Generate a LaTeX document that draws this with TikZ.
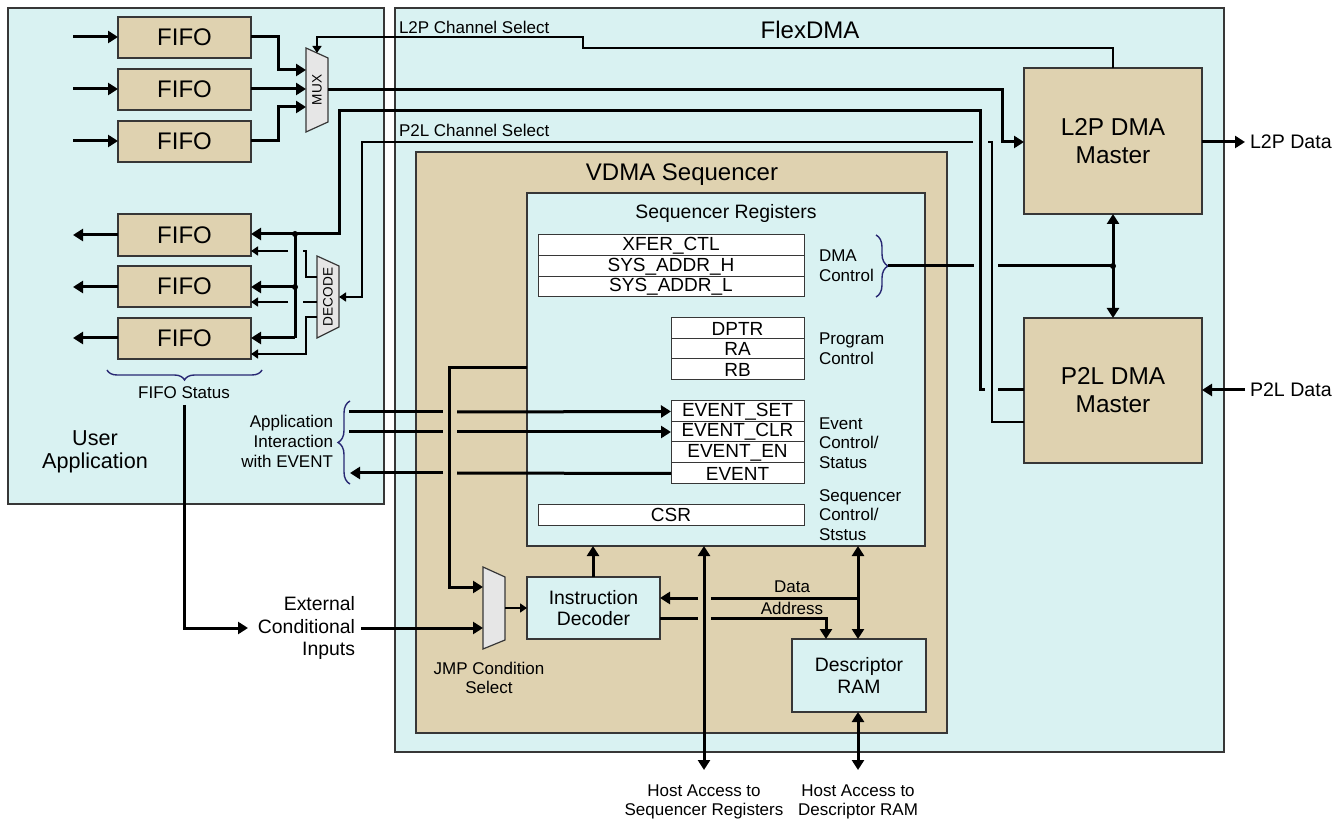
\documentclass[tikz,border=0pt]{standalone}
\usepackage{fontspec}
\setmainfont{Liberation Sans}
\usetikzlibrary{arrows.meta,fit,decorations.pathreplacing}
\definecolor{cyanbg}{RGB}{217,242,242}
\definecolor{tanbg}{RGB}{223,210,176}
\definecolor{muxgray}{RGB}{230,230,230}
\definecolor{bracec}{RGB}{40,40,115}
\definecolor{edgec}{RGB}{55,55,55}
\tikzset{
  area/.style={draw=edgec, line width=0.6pt, inner sep=0pt, outer sep=0pt},
  cyanbox/.style={area, fill=cyanbg},
  tanbox/.style={area, fill=tanbg},
  regbox/.style={draw=edgec, line width=0.5pt, fill=white, inner sep=0pt, outer sep=0pt},
  muxshape/.style={draw=edgec, line width=0.6pt, fill=muxgray},
  txt/.style={inner sep=0pt, outer sep=0pt},
  fifotxt/.style={txt, font=\fontsize{12}{14}\selectfont},
  regtxt/.style={txt, font=\fontsize{9.5}{11}\selectfont},
  sidetxt/.style={txt, anchor=west, align=left, font=\fontsize{8.5}{9.8}\selectfont},
  wire/.style={line width=1.5pt},
  fine/.style={line width=0.7pt},
  arr/.style={-{Triangle[length=5pt,width=6pt]}},
  darr/.style={{Triangle[length=5pt,width=6pt]}-{Triangle[length=5pt,width=6pt]}},
  farr/.style={-{Triangle[length=3.5pt,width=4.5pt]}},
  bracedeco/.style={draw=bracec, line width=0.7pt, decorate, decoration={brace, amplitude=#1}},
  dot/.style={circle, fill=black, inner sep=0pt, minimum size=3pt}
}
\begin{document}
\begin{tikzpicture}[x=0.5pt,y=-0.5pt]
\useasboundingbox (0,0) rectangle (1344,823);
\fill[white] (0,0) rectangle (1344,823);

% ---------- areas ----------
\node[cyanbox, fit={(8,8)(384,504)}] (ua) {};
\node[cyanbox, fit={(395,8)(1224,752)}] (fd) {};
\node[tanbox, fit={(416,152)(947,733)}] (vd) {};
\node[cyanbox, fit={(527,193)(925,546)}] (sr) {};

\node[txt, font=\fontsize{10.8}{11.5}\selectfont, align=center] (uat) at (95,452) {User\\Application};
\node[txt, font=\fontsize{12}{13}\selectfont] (fdt) at (810,30) {FlexDMA};
\node[txt, font=\fontsize{12}{14}\selectfont] (vdt) at (682,175) {VDMA Sequencer};
\node[txt, font=\fontsize{9.7}{11}\selectfont] (srt) at (726,213) {Sequencer Registers};

% ---------- registers ----------
\node[regbox, fit={(538,235)(804,256)}] (r1) {};
\node[regbox, fit={(538,256)(804,277)}] (r2) {};
\node[regbox, fit={(538,277)(804,297)}] (r3) {};
\node[regbox, fit={(671,318)(804,339)}] (r4) {};
\node[regbox, fit={(671,339)(804,359)}] (r5) {};
\node[regbox, fit={(671,359)(804,380)}] (r6) {};
\node[regbox, fit={(671,401)(804,422)}] (r7) {};
\node[regbox, fit={(671,422)(804,442)}] (r8) {};
\node[regbox, fit={(671,442)(804,463)}] (r9) {};
\node[regbox, fit={(671,463)(804,484)}] (r10) {};
\node[regbox, fit={(538,504)(804,525)}] (r11) {};
\node[regtxt] (t1) at (r1) {XFER\_CTL};
\node[regtxt] (t2) at (r2) {SYS\_ADDR\_H};
\node[regtxt] (t3) at (r3) {SYS\_ADDR\_L};
\node[regtxt] (t4) at (r4) {DPTR};
\node[regtxt] (t5) at (r5) {RA};
\node[regtxt] (t6) at (r6) {RB};
\node[regtxt] (t7) at (r7) {EVENT\_SET};
\node[regtxt] (t8) at (r8) {EVENT\_CLR};
\node[regtxt] (t9) at (r9) {EVENT\_EN};
\node[regtxt] (t10) at (r10) {EVENT};
\node[regtxt] (t11) at (r11) {CSR};

\node[sidetxt] (lbdma) at (819,266) {DMA\\Control};
\node[sidetxt] (lbprog) at (819,349) {Program\\Control};
\node[sidetxt] (lbev) at (819,443) {Event\\Control/\\Status};
\node[sidetxt] (lbseq) at (819,515) {Sequencer\\Control/\\Ststus};

% ---------- DMA masters ----------
\node[tanbox, fit={(1024,68)(1202,214)}] (l2p) {};
\node[tanbox, fit={(1024,318)(1202,463)}] (p2l) {};
\node[txt, align=center, font=\fontsize{12.2}{14}\selectfont] (l2pt) at (l2p) {L2P DMA\\Master};
\node[txt, align=center, font=\fontsize{12.2}{14}\selectfont] (p2lt) at (p2l) {P2L DMA\\Master};
\node[txt, anchor=west, font=\fontsize{9.8}{11}\selectfont] (l2pd) at (1250,142) {L2P Data};
\node[txt, anchor=west, font=\fontsize{9.8}{11}\selectfont] (p2ld) at (1250,390) {P2L Data};

% ---------- decoder, RAM ----------
\node[cyanbox, fit={(527,577)(660,639)}] (idec) {};
\node[cyanbox, fit={(792,639)(926,712)}] (dram) {};
\node[txt, align=center, font=\fontsize{9.7}{10.5}\selectfont] (idect) at (idec) {Instruction\\Decoder};
\node[txt, align=center, font=\fontsize{9.7}{11}\selectfont] (dramt) at (dram) {Descriptor\\RAM};

% ---------- FIFOs ----------
\node[tanbox, fit={(118,17)(251,58)}] (fa) {};
\node[tanbox, fit={(118,69)(251,110)}] (fb) {};
\node[tanbox, fit={(118,121)(251,162)}] (fc) {};
\node[tanbox, fit={(118,214)(251,256)}] (fd1) {};
\node[tanbox, fit={(118,266)(251,307)}] (fd2) {};
\node[tanbox, fit={(118,318)(251,359)}] (fd3) {};
\node[fifotxt] (fat) at (fa) {FIFO};
\node[fifotxt] (fbt) at (fb) {FIFO};
\node[fifotxt] (fct) at (fc) {FIFO};
\node[fifotxt] (fd1t) at (fd1) {FIFO};
\node[fifotxt] (fd2t) at (fd2) {FIFO};
\node[fifotxt] (fd3t) at (fd3) {FIFO};

% ---------- muxes ----------
\draw[muxshape] (306,48) -- (328,58) -- (328,122) -- (306,132) -- cycle;
\node[txt, rotate=90, font=\fontsize{6.8}{8}\selectfont] (muxt) at (317,90) {MUX};
\draw[muxshape] (317,256) -- (339,266) -- (339,327) -- (317,338) -- cycle;
\node[txt, rotate=90, font=\fontsize{6.8}{8}\selectfont] (dect) at (328,297) {DECODE};
\draw[muxshape] (483,567) -- (505,577) -- (505,640) -- (483,649) -- cycle;
\node[txt, align=center, font=\fontsize{8.5}{9.8}\selectfont] (jmpt) at (489,678) {JMP Condition\\Select};

% ---------- labels ----------
\node[txt, anchor=west, font=\fontsize{8.5}{9}\selectfont] (l2psel) at (399,27) {L2P Channel Select};
\node[txt, anchor=west, font=\fontsize{8.5}{9}\selectfont] (p2lsel) at (399,130) {P2L Channel Select};
\node[txt, font=\fontsize{8.5}{9}\selectfont] (fst) at (184,393) {FIFO Status};
\node[txt, anchor=east, align=right, font=\fontsize{8.5}{10}\selectfont] (appt) at (333,441) {Application\\Interaction\\with EVENT};
\node[txt, anchor=east, align=right, font=\fontsize{9.7}{11.2}\selectfont] (extt) at (355,628) {External\\Conditional\\Inputs};
\node[txt, font=\fontsize{8.5}{9}\selectfont] (datat) at (792,587) {Data};
\node[txt, font=\fontsize{8.5}{9}\selectfont] (addrt) at (792,608) {Address};
\node[txt, align=center, font=\fontsize{8.5}{9.6}\selectfont] (hst1) at (704,802) {Host Access to\\Sequencer Registers};
\node[txt, align=center, font=\fontsize{8.5}{9.6}\selectfont] (hst2) at (858,802) {Host Access to\\Descriptor RAM};

% ---------- braces ----------
\draw[bracedeco=6pt] (876,235) -- (876,297);
\draw[bracedeco=6pt] (350,484) -- (350,401);
\draw[bracedeco=5pt] (262,370) -- (107,370);

% ---------- top FIFO group ----------
\coordinate (ina) at (73,37); \coordinate (inb) at (73,89); \coordinate (inc) at (73,141);
\draw[wire,arr] (ina) -- (fa.west |- ina);
\draw[wire,arr] (inb) -- (fb.west |- inb);
\draw[wire,arr] (inc) -- (fc.west |- inc);
\draw[wire,arr] (fa.east |- ina) -- (278,37) -- (278,70) -- (306,70);
\draw[wire,arr] (fb.east |- inb) -- (306,89);
\draw[wire,arr] (fc.east |- inc) -- (278,141) -- (278,107) -- (306,107);
% mux out -> L2P master
\draw[wire,arr] (328,90) -- (1002,90) -- (1002,142) -- (l2p.west |- 0,142);
% L2P channel select
\draw[fine,farr] (l2p.north -| 1113,0) -- (1113,48) -- (583,48) -- (583,37) -- (317,37) -- (317,53);
\draw[wire,arr] (l2p.east |- 0,142) -- (1245,142);
\draw[wire,arr] (1245,390) -- (p2l.east |- 0,390);
\draw[wire,darr] (l2p.south -| 1113,0) -- (p2l.north -| 1113,0);

% ---------- P2L data to bottom FIFOs ----------
\draw[wire] (p2l.west |- 0,390) -- (998,390);
\draw[wire,arr] (985,390) -- (980,390) -- (980,111) -- (339,111) -- (339,234) -- (fd1.east |- 0,234);
\draw[wire] (295,234) -- (295,338);
\draw[wire,arr] (295,287) -- (fd2.east |- 0,287);
\draw[wire,arr] (295,338) -- (fd3.east |- 0,338);
\node[dot] (j1) at (295,234) {};
\node[dot] (j2) at (295,287) {};
\draw[wire,arr] (fd1.west |- 0,235) -- (73,235);
\draw[wire,arr] (fd2.west |- 0,287) -- (73,287);
\draw[wire,arr] (fd3.west |- 0,338) -- (73,338);

% ---------- P2L channel select -> decode ----------
\draw[fine] (p2l.west |- 0,422) -- (992,422) -- (992,142) -- (988,142);
\draw[fine,farr] (973,142) -- (362,142) -- (362,297) -- (339,297);
% decode outputs
\draw[fine] (317,277) -- (306,277) -- (306,251) -- (303,251);
\draw[fine,farr] (288,251) -- (fd1.east |- 0,251);
\draw[fine] (317,302) -- (303,302);
\draw[fine,farr] (288,302) -- (fd2.east |- 0,302);
\draw[fine,farr] (317,317) -- (306,317) -- (306,354) -- (fd3.east |- 0,354);

% ---------- DMA control ----------
\draw[wire] (888,266) -- (974,266);
\draw[wire] (998,266) -- (1113,266);
\node[dot] (j3) at (1113,266) {};

% ---------- event lines ----------
\draw[wire] (349,412) -- (443,412);
\draw[wire,arr] (457,412) -- (r7.west);
\draw[wire] (349,432) -- (443,432);
\draw[wire,arr] (457,432) -- (r8.west);
\draw[wire] (r10.west) -- (457,473);
\draw[wire,arr] (443,473) -- (350,473);

% ---------- JMP condition ----------
\draw[wire,arr] (sr.west |- 0,368) -- (449,368) -- (449,587) -- (483,587);
\draw[wire,arr] (361,628) -- (483,628);
\draw[wire,arr] (184,405) -- (184,628) -- (248,628);
\draw[fine,farr] (505,608) -- (idec.west |- 0,608);
\draw[wire,arr] (idec.north -| 593,0) -- (sr.south -| 593,0);

% ---------- host access, data, address ----------
\draw[wire,darr] (sr.south -| 704,0) -- (704,770);
\draw[wire,darr] (sr.south -| 858,0) -- (dram.north -| 858,0);
\draw[wire,darr] (dram.south -| 858,0) -- (858,770);
\draw[wire] (858,598) -- (711,598);
\draw[wire,arr] (698,598) -- (idec.east |- 0,598);
\draw[wire] (idec.east |- 0,618) -- (698,618);
\draw[wire,arr] (711,618) -- (826,618) -- (dram.north -| 826,0);
\end{tikzpicture}
\end{document}
